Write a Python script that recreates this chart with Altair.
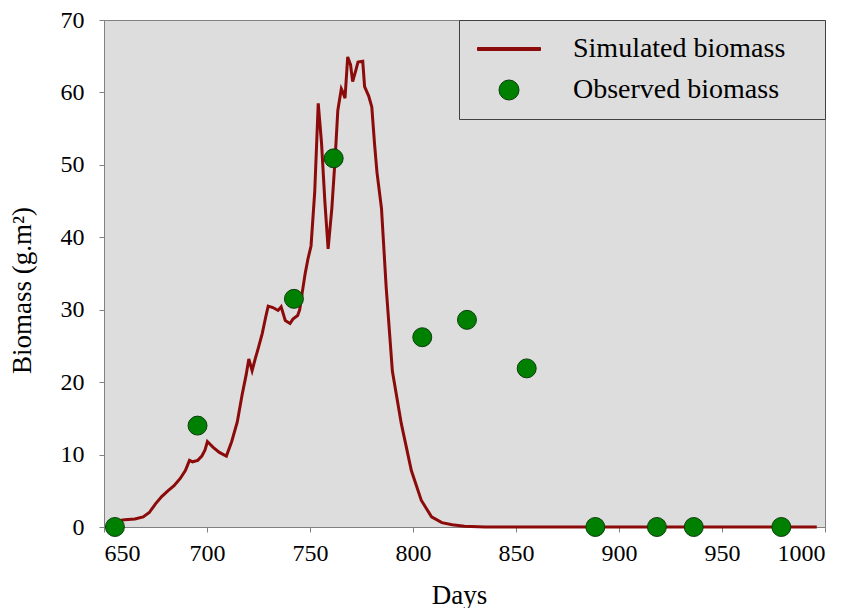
import altair as alt
import pandas as pd

# ---------------- data ----------------
sim_days = [655, 660, 665, 669, 672, 675, 678, 681, 684, 687, 689.5, 691.5, 693,
            695.5, 697.5, 699, 700.2, 703, 706, 709.4, 712, 714.7, 717, 719, 720.3,
            721.9, 723.4, 725, 726.8, 728.5, 729.7, 732, 734.5, 736, 738, 740.3,
            741.7, 744, 745, 746.3, 747.6, 749, 750.5, 752.3, 754, 755.6, 757.2,
            758.8, 760.6, 762.2, 763.5, 765.2, 766, 767, 768.3, 769.7, 770.7, 772,
            773.3, 775.6, 776.5, 778.5, 780, 781.3, 782.5, 784.7, 787, 790, 794.3,
            799.2, 804, 809, 814, 819, 825, 835, 850, 900, 950, 996]
sim_vals = [0.8, 1.0, 1.1, 1.4, 2.0, 3.2, 4.2, 5.0, 5.7, 6.7, 7.8, 9.2, 9.0,
            9.2, 9.8, 10.6, 11.8, 11.0, 10.3, 9.8, 11.8, 14.5, 18.2, 21.0, 23.2,
            21.6, 23.2, 24.8, 26.7, 29.0, 30.5, 30.3, 29.9, 30.4, 28.5, 28.1,
            28.7, 29.2, 30.0, 32.5, 34.9, 37.0, 38.8, 46.3, 58.5, 53.0, 45.0,
            38.4, 44.0, 50.9, 57.5, 60.5, 60.0, 59.2, 64.9, 63.8, 61.5, 62.8,
            64.2, 64.3, 60.8, 59.5, 58.0, 53.0, 49.0, 44.0, 33.0, 21.5, 14.3,
            7.8, 3.7, 1.4, 0.6, 0.3, 0.1, 0.0, 0.0, 0.0, 0.0, 0.0]

obs_days = [655.3, 695.4, 742.2, 761.5, 804.5, 826.2, 855.2, 888.5, 918.4, 936.3, 978.8]
obs_vals = [0.0, 14.0, 31.5, 50.9, 26.2, 28.6, 21.9, 0.0, 0.0, 0.0, 0.0]

series_names = ["Simulated biomass", "Observed biomass"]
x_ticks = [650, 700, 750, 800, 850, 900, 950, 1000]
y_ticks = [0, 10, 20, 30, 40, 50, 60, 70]

# ---------------- styling ----------------
FONT = "Liberation Serif"
LINE_RED = "#8b0a0a"
GREEN = "#008000"
GREEN_EDGE = "#0b3d0b"
PANEL = "#dddddd"
# legend line swatch; the trailing move-to only widens the legend box on the right
LINE_SYMBOL = "M-3.15,-0.15H3.15V0.15H-3.15Z M29.9,0"

sim = pd.DataFrame({"day": sim_days, "biomass": sim_vals})
obs = pd.DataFrame({"day": obs_days, "biomass": obs_vals})
obs["series"] = series_names[1]

x_enc = alt.X("day:Q",
              scale=alt.Scale(domain=[650, 1000], nice=False, zero=False),
              axis=alt.Axis(values=x_ticks, format="d", title="Days",
                            labelPadding=9, titlePadding=17, titleX=355))
y_enc = alt.Y("biomass:Q",
              scale=alt.Scale(domain=[0, 70], nice=False),
              axis=alt.Axis(values=y_ticks, format="d", title="Biomass (g.m²)",
                            labelPadding=15, titlePadding=24, titleY=270))

legend = alt.Legend(
    title=None, orient="top-right", offset=0,
    fillColor=PANEL, strokeColor="#404040", padding=15,
    symbolSize=400, symbolOffset=21, labelOffset=50, rowPadding=13,
    symbolStrokeWidth=1, labelLimit=600,
    labelFont=FONT, labelFontSize=28, labelColor="black",
)

line = alt.Chart(sim).mark_line(color=LINE_RED, strokeWidth=3).encode(x=x_enc, y=y_enc)

points = alt.Chart(obs).mark_point(filled=True, size=360, opacity=1, strokeWidth=1).encode(
    x=x_enc, y=y_enc,
    color=alt.Color("series:N", scale=alt.Scale(domain=series_names, range=[LINE_RED, GREEN]), legend=legend),
    stroke=alt.Stroke("series:N", scale=alt.Scale(domain=series_names, range=[LINE_RED, GREEN_EDGE]), legend=legend),
    shape=alt.Shape("series:N", scale=alt.Scale(domain=series_names, range=[LINE_SYMBOL, "circle"]), legend=legend),
)

chart = (
    alt.layer(line, points)
    .properties(width=721, height=507, padding={"left": 0, "top": 0, "right": 0, "bottom": 0},
                background="white")
    .configure_view(fill=PANEL, stroke="#808080", strokeWidth=1)
    .configure_axis(
        grid=False, domainColor="#808080", tickColor="#808080", tickSize=5,
        labelFont=FONT, labelFontSize=24, labelColor="black",
        titleFont=FONT, titleFontSize=27, titleFontWeight="normal", titleColor="black",
    )
)

chart.save("out.html", embed_options={"renderer": "svg", "actions": False})
